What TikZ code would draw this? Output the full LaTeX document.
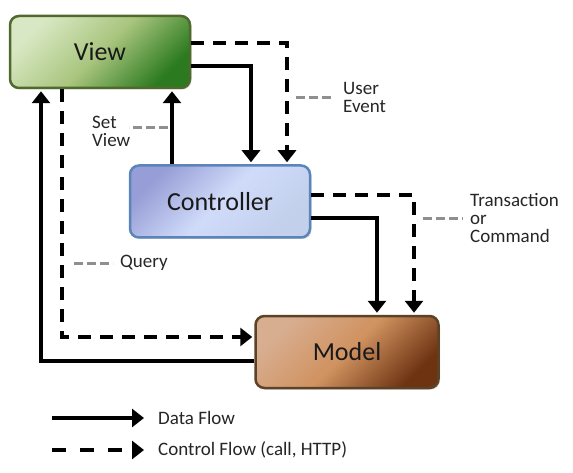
\documentclass[tikz,border=0pt]{standalone}
\usepackage{fontspec}
\setmainfont{Carlito}
\usetikzlibrary{arrows.meta,shadows}

\definecolor{viewtop}{HTML}{D9E8C4}
\definecolor{viewmid}{HTML}{A9C57E}
\definecolor{viewbot}{HTML}{2B7A1F}
\definecolor{viewline}{HTML}{4F6A2C}
\definecolor{ctrltop}{HTML}{979DD6}
\definecolor{ctrlmid}{HTML}{D0DBF9}
\definecolor{ctrlbot}{HTML}{C2D0EC}
\definecolor{ctrlline}{HTML}{5B85BA}
\definecolor{modeltop}{HTML}{D8AE90}
\definecolor{modelmid}{HTML}{D09260}
\definecolor{modelbot}{HTML}{6E3412}
\definecolor{modelline}{HTML}{5C4226}
\definecolor{leadergray}{HTML}{8F8F8F}

\begin{document}
\begin{tikzpicture}[x=1pt,y=-1pt,
    box/.style={draw, line width=2.5pt, rounded corners=9pt, minimum width=180pt,
        minimum height=72pt, inner sep=0pt, text=black!90,
        font=\fontsize{26}{30}\selectfont,
        drop shadow={shadow xshift=1.5pt, shadow yshift=-1.5pt, opacity=.3}},
    dataflow/.style={line width=3.5pt, -{Triangle[width=18pt,length=12pt]}, shorten >=2pt},
    ctrlflow/.style={dataflow, dash pattern=on 13pt off 9pt},
    leader/.style={leadergray, line width=3pt, dash pattern=on 9pt off 4pt},
    lbl/.style={align=left, inner sep=3pt, text=black!85, font=\fontsize{19}{18}\selectfont}]

    \useasboundingbox[fill=white] (0,0) rectangle (573,473);

    % boxes
    \node[box, draw=viewline, top color=viewtop, bottom color=viewbot, middle color=viewmid,
        shading angle=45] (view) at (100,52) {View};
    \node[box, draw=ctrlline, top color=ctrltop, bottom color=ctrlbot, middle color=ctrlmid,
        shading angle=45] (controller) at (220,201.5) {Controller};
    \node[box, minimum width=183pt, draw=modelline, top color=modeltop, bottom color=modelbot,
        middle color=modelmid, shading angle=45] (model) at (347,352) {Model};

    % flows
    \draw[dataflow] ([yshift=-14pt]view.east) -| ([xshift=31pt]controller.north);
    \draw[ctrlflow] ([yshift=9pt]view.east) -| ([xshift=67pt]controller.north);
    \draw[dataflow] ([xshift=-48pt]controller.north) -- ([xshift=-48pt]controller.north |- view.south);
    \draw[dataflow] ([yshift=-16.5pt]controller.east) -| ([xshift=30pt]model.north);
    \draw[ctrlflow] ([yshift=6.5pt]controller.east) -| ([xshift=67pt]model.north);
    \draw[ctrlflow] ([xshift=-38pt]view.south) |- ([yshift=15pt]model.west);
    \draw[dataflow] ([yshift=-9pt]model.west) -| ([xshift=-59pt]view.south);

    % labels
    \node[lbl, anchor=west] (userevent) at (340,97) {User\\Event};
    \coordinate (ue) at (296,98);
    \draw[leader] (ue) -- (ue -| userevent.west) [shorten >=6pt];

    \node[lbl, anchor=west] (setview) at (89,131) {Set\\View};
    \coordinate (sv) at (168,128);
    \draw[leader] (sv) -- ++(-39,0);

    \node[lbl, anchor=west] (query) at (117,263) {Query};
    \coordinate (qy) at (74,263);
    \draw[leader, shorten >=4pt] (qy) -- (qy -| query.west);

    \node[lbl, anchor=west] (trans) at (467,218) {Transaction\\or\\Command};
    \coordinate (tc) at (423,219);
    \draw[leader, shorten >=4pt] (tc) -- (tc -| trans.west);

    % legend
    \node[lbl, anchor=west] (datalbl) at (155,418) {Data Flow};
    \node[lbl, anchor=west] (ctrllbl) at (155,450) {Control Flow (call, HTTP)};
    \coordinate (legdata) at (52,418);
    \coordinate (legctrl) at (52,450);
    \draw[dataflow, shorten >=11pt] (legdata) -- (datalbl.west);
    \draw[ctrlflow, dash pattern=on 14pt off 14pt, shorten >=11pt] (legctrl) -- (legctrl -| ctrllbl.west);
\end{tikzpicture}
\end{document}
